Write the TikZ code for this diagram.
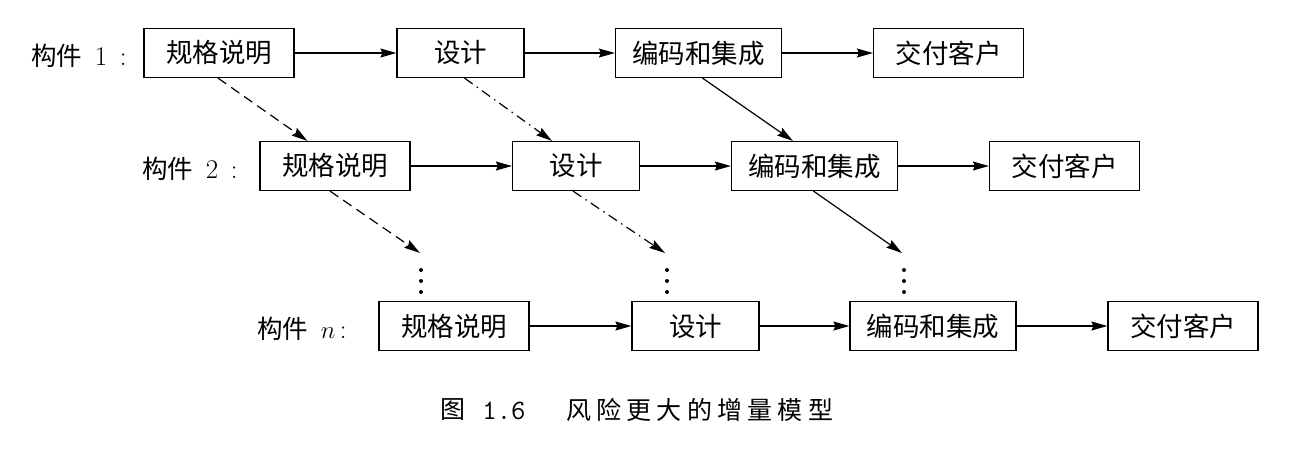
\documentclass[tikz,border=0pt]{standalone}
\usepackage{fontspec}
\newfontfamily\cjk{Noto Sans CJK SC}
\newfontfamily\cjkcap[LetterSpace=21]{Noto Sans CJK SC}
\usetikzlibrary{arrows.meta,calc}
\begin{document}
\begin{tikzpicture}[x=1pt,y=-1pt,
  box/.style={draw, line width=1.2pt, minimum height=49pt, inner sep=0pt,
              font=\cjk\fontsize{26.5}{26.5}\selectfont},
  wa/.style={minimum width=150pt},
  wb/.style={minimum width=127pt},
  wc/.style={minimum width=166pt},
  arr/.style={line width=1.2pt, -{Stealth[length=16pt,width=9pt,inset=2pt]}},
  dashline/.style={dash pattern=on 10pt off 6pt},
  dashdotline/.style={dash pattern=on 10pt off 5pt on 1.5pt off 5pt},
  lab/.style={anchor=west, inner sep=0pt, font=\fontsize{27}{27}\selectfont},
  vdot/.style={circle, fill, inner sep=0pt, minimum size=4pt},
  captext/.style={inner sep=0pt, font=\fontsize{27}{27}\selectfont}
]
\useasboundingbox (0,0) rectangle (1306,451);

% row 1
\node[box,wa] (a1) at (219,53)   {规格说明};
\node[box,wb] (b1) at (460.5,53) {设计};
\node[box,wc] (c1) at (698.5,53) {编码和集成};
\node[box,wa] (d1) at (948.5,53) {交付客户};
% row 2
\node[box,wa] (a2) at (335,166)   {规格说明};
\node[box,wb] (b2) at (576,166)   {设计};
\node[box,wc] (c2) at (814.5,166) {编码和集成};
\node[box,wa] (d2) at (1064.5,166){交付客户};
% row n
\node[box,wa] (a3) at (454,326)  {规格说明};
\node[box,wb] (b3) at (695.5,326){设计};
\node[box,wc] (c3) at (933,326)  {编码和集成};
\node[box,wa] (d3) at (1183,326) {交付客户};

% labels
\node[lab] (l1) at (31,56)  {{\cjk\fontsize{25.5}{25.5}\selectfont 构件}\ \,1\ \,:};
\node[lab] (l2) at (142,169) {{\cjk\fontsize{25.5}{25.5}\selectfont 构件}\ \,2\ \,:};
\node[lab] (l3) at (257,329) {{\cjk\fontsize{25.5}{25.5}\selectfont 构件}\ \,$n$\,:};

% horizontal arrows
\draw[arr] (a1) -- (b1);
\draw[arr] (b1) -- (c1);
\draw[arr] (c1) -- (d1);
\draw[arr] (a2) -- (b2);
\draw[arr] (b2) -- (c2);
\draw[arr] (c2) -- (d2);
\draw[arr] (a3) -- (b3);
\draw[arr] (b3) -- (c3);
\draw[arr] (c3) -- (d3);

% dots
\foreach \n/\x in {p/421,q/667,r/904}{
  \node[vdot] (\n1) at (\x,270) {};
  \node[vdot] (\n2) at (\x,281) {};
  \node[vdot] (\n3) at (\x,292) {};
}
\coordinate (ep) at (420,253);
\coordinate (eq) at (665,253);
\coordinate (er) at (902,253);

% diagonal arrows
\draw[arr,dashline] ($(a1.south)+(-1,0)$) -- ($(a2.north west)+(48,0)$);
\draw[arr,dashdotline] ($(b1.south)+(4,0)$) -- ($(b2.north west)+(40,0)$);
\draw[arr] ($(c1.south)+(4,0)$) -- ($(c2.north west)+(62,0)$);
\draw[arr,dashline] ($(a2.south)+(-5,0)$) -- (ep);
\draw[arr,dashdotline] ($(b2.south)+(-3,0)$) -- (eq);
\draw[arr] ($(c2.south)+(-1,0)$) -- (er);

% caption
\node[captext,font=\cjk\fontsize{25}{25}\selectfont] (c0) at (453,410) {图};
\node[captext,font=\ttfamily\fontsize{28}{28}\selectfont] (cn) at (504,411) {1.6};
\node[captext,anchor=west,font=\cjkcap\fontsize{25}{25}\selectfont] (ct) at (566,410) {风险更大的增量模型};
\end{tikzpicture}
\end{document}
